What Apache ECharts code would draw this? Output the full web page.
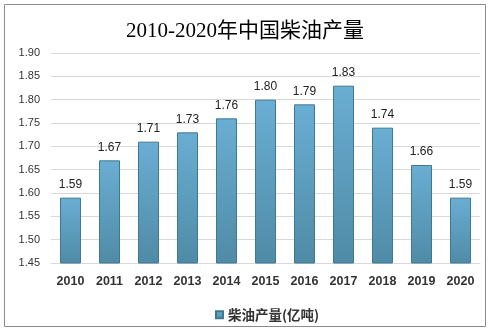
<!DOCTYPE html>
<html><head><meta charset="utf-8">
<script src="https://cdn.jsdelivr.net/npm/echarts@6/dist/echarts.min.js"></script>
<style>html,body{margin:0;padding:0;background:#fff}#c{width:490px;height:331px}</style>
</head><body><div id="c"></div>
<script>
const categories = ['2010','2011','2012','2013','2014','2015','2016','2017','2018','2019','2020'];
const values = [1.59,1.67,1.71,1.73,1.76,1.80,1.79,1.83,1.74,1.66,1.59];
const seriesName = '柴油产量(亿吨)';
const titleText = '2010-2020年中国柴油产量';

const chart = echarts.init(document.getElementById('c'), null, {renderer:'canvas'});
chart.setOption({
  animation:false,
  backgroundColor:'#fff',
  graphic:[{type:'rect',shape:{x:4.5,y:4.5,width:481,height:322},style:{fill:'none',stroke:'#8c8c8c',lineWidth:1}}],
  title:{text:titleText,left:'center',top:16,textStyle:{fontFamily:'Liberation Serif, "Noto Sans CJK SC", serif',fontSize:21,fontWeight:'normal',color:'#000'}},
  legend:{data:[seriesName],left:210,top:303,itemWidth:7,itemHeight:7,itemGap:4,icon:'rect',
    textStyle:{fontSize:13.5,fontWeight:'bold',color:'#333',fontFamily:'"Noto Sans CJK SC", sans-serif'}},
  grid:{left:51,right:10,top:53,bottom:68,containLabel:false},
  xAxis:{type:'category',data:categories,axisTick:{show:false},
    axisLine:{lineStyle:{color:'#d9d9d9'}},
    axisLabel:{interval:0,fontSize:12.5,fontWeight:'bold',color:'#333',margin:12,fontFamily:'"Liberation Sans", sans-serif'}},
  yAxis:{type:'value',min:1.45,max:1.90,interval:0.05,
    axisLine:{show:false},axisTick:{show:false},
    splitLine:{lineStyle:{color:'#d9d9d9'}},
    axisLabel:{fontSize:11,color:'#333',margin:11,formatter:v=>v.toFixed(2),fontFamily:'"Liberation Sans", sans-serif'}},
  series:[{name:seriesName,type:'bar',data:values,barWidth:21,
    itemStyle:{color:new echarts.graphic.LinearGradient(0,0,0,1,[{offset:0,color:'#6aaed3'},{offset:1,color:'#4f8ba6'}]),
      borderColor:'#3f7891',borderWidth:1},
    label:{show:true,position:'top',distance:7,fontSize:12,color:'#222',formatter:p=>p.value.toFixed(2),fontFamily:'"Liberation Sans", sans-serif'}}]
});
</script></body></html>
